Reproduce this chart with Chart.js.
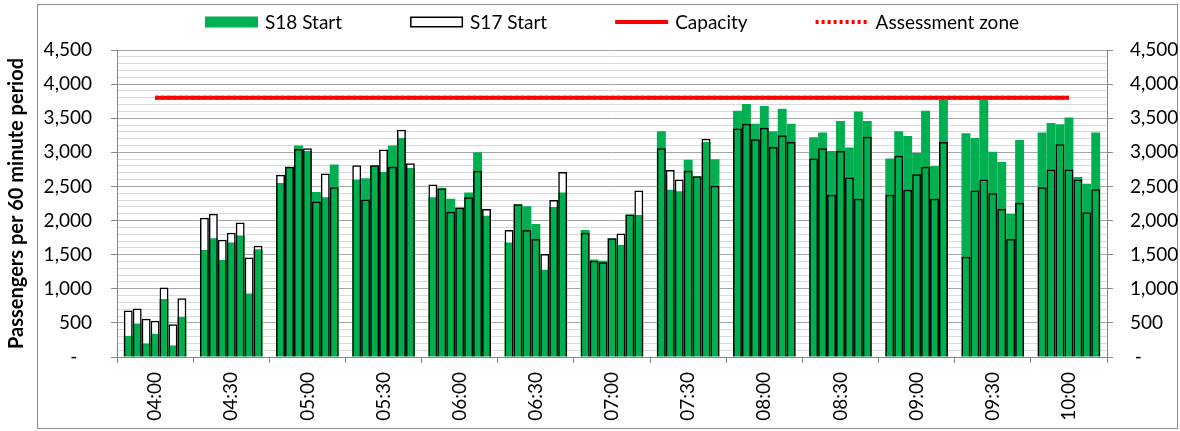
<!DOCTYPE html>
<html>
<head>
<meta charset="utf-8">
<title>Passengers per 60 minute period</title>
<script src="https://cdn.jsdelivr.net/npm/chart.js@4.4.1/dist/chart.umd.min.js"></script>
<style>
  html, body { margin: 0; padding: 0; background: #ffffff; }
  #wrap { width: 1180px; height: 431px; }
</style>
</head>
<body>
<div id="wrap"><canvas id="chart" width="1180" height="431"></canvas></div>
<script>
// Half-hour groups along the x axis
const timeLabels = ['04:00', '04:30', '05:00', '05:30', '06:00', '06:30', '07:00',
                    '07:30', '08:00', '08:30', '09:00', '09:30', '10:00'];

// Passengers per 60 minute period, seven starts inside each half hour
const s18Start = [
  [310, 490, 200, 340, 850, 170, 590],
  [1570, 1740, 1420, 1680, 1780, 930, 1580],
  [2550, 2790, 3100, 3020, 2420, 2340, 2820],
  [2600, 2620, 2810, 2710, 3100, 3210, 2770],
  [2340, 2480, 2320, 2190, 2410, 3000, 2070],
  [1680, 2240, 2210, 1950, 1280, 2200, 2410],
  [1860, 1430, 1410, 1740, 1640, 2090, 2080],
  [3310, 2450, 2430, 2890, 2650, 3150, 2900],
  [3610, 3710, 3420, 3680, 3310, 3640, 3420],
  [3220, 3290, 3020, 3460, 3070, 3600, 3460],
  [2910, 3310, 3240, 2990, 3610, 2800, 3770],
  [3280, 3210, 3770, 3010, 2860, 2100, 3180],
  [3290, 3430, 3410, 3510, 2640, 2540, 3290]
];

const s17Start = [
  [680, 710, 560, 530, 1020, 480, 860],
  [2040, 2100, 1720, 1820, 1970, 1460, 1630],
  [2670, 2790, 3050, 3060, 2280, 2690, 2490],
  [2810, 2310, 2810, 3040, 2790, 3330, 2840],
  [2530, 2470, 2130, 2190, 2340, 2730, 2170],
  [1860, 2240, 1860, 1730, 1510, 2300, 2710],
  [1820, 1410, 1390, 1740, 1810, 2090, 2440],
  [3060, 2740, 2600, 2730, 2650, 3200, 2510],
  [3350, 3420, 3190, 3360, 3080, 3250, 3150],
  [2910, 3060, 2380, 3020, 2630, 2320, 3230],
  [2380, 2950, 2450, 2680, 2790, 2320, 3150],
  [1470, 2440, 2600, 2400, 2170, 1730, 2260],
  [2490, 2750, 3120, 2750, 2600, 2120, 2460]
];

const capacity =       [3800, 3800, 3800, 3800, 3800, 3800, 3800, 3800, 3800, 3800, 3800, 3800, 3800];
const assessmentZone = [3800, 3800, 3800, 3800, 3800, 3800, 3800, 3800, 3800, 3800, 3800, 3800, 3800];

const GREEN = '#00B050';
const RED = '#FF0000';
const FONT = 'Lato';
const FONT_SIZE = 19;

Chart.defaults.font.family = FONT;
Chart.defaults.font.size = FONT_SIZE;
Chart.defaults.color = '#000000';

// one bar dataset per start slot so the seven starts sit side by side in each group
function slotDatasets(series, label, style) {
    const slots = series[0].length;
    const sets = [];
    for (let i = 0; i < slots; i++) {
        sets.push(Object.assign({
            type: 'bar',
            label: label,
            data: series.map(group => group[i]),
            stack: 'slot' + i,
            barPercentage: 1,
            categoryPercentage: 0.822
        }, style));
    }
    return sets;
}

const datasets = [
    {
        type: 'line', label: 'Capacity', data: capacity,
        borderColor: RED, borderWidth: 4, pointRadius: 0, order: 0
    },
    {
        type: 'line', label: 'Assessment zone', data: assessmentZone,
        borderColor: RED, borderWidth: 4, borderDash: [3, 3], pointRadius: 0, order: 0
    },
    // S17 outline drawn over the green bars
    ...slotDatasets(s17Start, 'S17 Start', {
        backgroundColor: 'rgba(0,0,0,0)', borderColor: '#000000', borderWidth: 1.5, order: 1
    }),
    ...slotDatasets(s18Start, 'S18 Start', {
        backgroundColor: GREEN, borderWidth: 0, order: 2
    }),
    // S17 white fill sits behind the green bars
    ...slotDatasets(s17Start, 'S17 Start fill', {
        backgroundColor: '#FFFFFF', borderWidth: 0, order: 3
    })
];

// Legend laid out like the spreadsheet one
const legendItems = [
    { text: 'S18 Start', kind: 'box', fill: GREEN },
    { text: 'S17 Start', kind: 'box', fill: '#FFFFFF', stroke: '#000000' },
    { text: 'Capacity', kind: 'line', color: RED, dash: [] },
    { text: 'Assessment zone', kind: 'line', color: RED, dash: [3, 3] }
];

const sheetLegend = {
    id: 'sheetLegend',
    afterDraw(chart) {
        const ctx = chart.ctx;
        const boxW = 53, boxH = 11, textGap = 7, itemGap = 68, y = 22;
        ctx.save();
        ctx.font = FONT_SIZE + 'px ' + FONT;
        ctx.textBaseline = 'middle';
        ctx.textAlign = 'left';
        const widths = legendItems.map(it => boxW + textGap + ctx.measureText(it.text).width);
        const total = widths.reduce((a, b) => a + b, 0) + itemGap * (legendItems.length - 1);
        const area = chart.chartArea;
        let x = (area.left + area.right) / 2 - total / 2;
        legendItems.forEach((it, i) => {
            if (it.kind === 'box') {
                ctx.fillStyle = it.fill;
                ctx.fillRect(x, y - boxH / 2, boxW, boxH);
                if (it.stroke) {
                    ctx.strokeStyle = it.stroke;
                    ctx.lineWidth = 1.5;
                    ctx.strokeRect(x + 0.75, y - boxH / 2 + 0.75, boxW - 1.5, boxH - 1.5);
                }
            } else {
                ctx.strokeStyle = it.color;
                ctx.lineWidth = 4;
                ctx.setLineDash(it.dash);
                ctx.beginPath();
                ctx.moveTo(x, y);
                ctx.lineTo(x + boxW, y);
                ctx.stroke();
                ctx.setLineDash([]);
            }
            ctx.fillStyle = '#000000';
            ctx.fillText(it.text, x + boxW + textGap, y + 1);
            x += widths[i] + itemGap;
        });
        ctx.restore();
    }
};

// outer chart border
const chartBorder = {
    id: 'chartBorder',
    beforeDraw(chart) {
        const ctx = chart.ctx;
        ctx.save();
        ctx.fillStyle = '#FFFFFF';
        ctx.fillRect(0, 0, chart.width, chart.height);
        ctx.strokeStyle = '#8C8C8C';
        ctx.lineWidth = 1;
        ctx.strokeRect(37.5, 4.5, 1140, 424);
        ctx.restore();
    }
};

function majorTick(v) {
    return v % 500 === 0;
}

new Chart(document.getElementById('chart'), {
    data: {
        labels: timeLabels,
        datasets: datasets
    },
    options: {
        responsive: false,
        animation: false,
        layout: { padding: { top: 50, left: 0, right: 0, bottom: 0 }, autoPadding: false },
        plugins: {
            legend: { display: false },
            tooltip: { enabled: false }
        },
        scales: {
            x: {
                type: 'category',
                offset: true,
                grid: {
                    offset: true,
                    drawOnChartArea: false,
                    tickLength: 6,
                    tickColor: '#868686'
                },
                border: { color: '#868686' },
                ticks: {
                    minRotation: 90,
                    maxRotation: 90,
                    padding: 9,
                    autoSkip: false
                },
                afterFit: scale => { scale.height = 74; }
            },
            y: {
                type: 'linear',
                position: 'left',
                stacked: false,
                min: 0,
                max: 4500,
                grid: {
                    color: ctx => majorTick(ctx.tick.value) ? '#A6A6A6' : '#D9D9D9',
                    tickColor: ctx => majorTick(ctx.tick.value) ? '#868686' : 'rgba(0,0,0,0)',
                    tickLength: 6
                },
                border: { color: '#868686' },
                ticks: {
                    stepSize: 100,
                    autoSkip: false,
                    padding: 19,
                    callback: v => majorTick(v) ? (v === 0 ? '-   ' : v.toLocaleString('en-US')) : ''
                },
                title: {
                    display: true,
                    text: 'Passengers per 60 minute period',
                    font: { weight: 'bold', size: 20 },
                    padding: { top: 5, bottom: 0 }
                },
                afterFit: scale => { scale.width = 117; }
            },
            y2: {
                type: 'linear',
                position: 'right',
                min: 0,
                max: 4500,
                grid: {
                    drawOnChartArea: false,
                    tickLength: 6,
                    tickColor: '#868686'
                },
                border: { color: '#868686' },
                ticks: {
                    stepSize: 500,
                    padding: 17,
                    callback: v => v === 0 ? ' -' : v.toLocaleString('en-US')
                },
                afterFit: scale => { scale.width = 73; }
            }
        }
    },
    plugins: [chartBorder, sheetLegend]
});
</script>
</body>
</html>
